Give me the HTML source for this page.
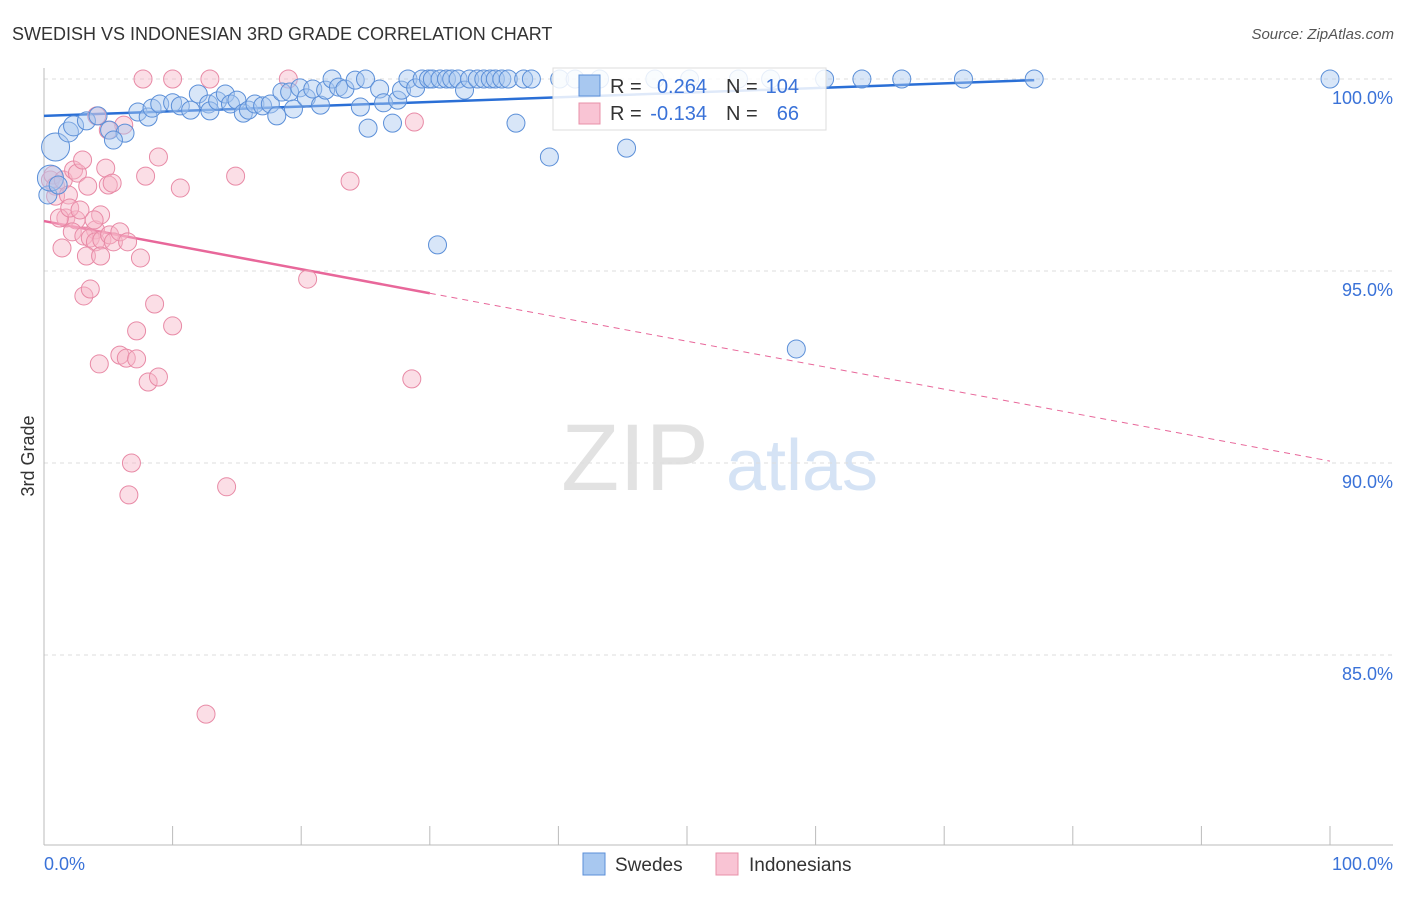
<!DOCTYPE html>
<html><head><meta charset="utf-8"><style>
body{margin:0;background:#fff;font-family:"Liberation Sans",sans-serif;}
svg text{font-family:"Liberation Sans",sans-serif;}
</style></head><body>
<svg id="chart" width="1406" height="892" xmlns="http://www.w3.org/2000/svg">
<text x="12" y="40" font-size="18" fill="#333">SWEDISH VS INDONESIAN 3RD GRADE CORRELATION CHART</text>
<text x="1394" y="39" font-size="15" fill="#555" font-style="italic" text-anchor="end">Source: ZipAtlas.com</text>
<g>
<text x="635" y="490" font-size="95" fill="#e2e2e2" font-family="Liberation Serif" text-anchor="middle">ZIP</text>
<text x="802" y="490" font-size="72" fill="#d5e3f5" text-anchor="middle">atlas</text>
</g>
<g id="grid"></g>
<g id="axes"></g>
<g id="lines"></g>
<g id="pts"></g>
<text transform="translate(34,456) rotate(-90)" font-size="18" fill="#333" text-anchor="middle">3rd Grade</text>
<g>
<rect x="553" y="68" width="273" height="62" fill="#fff" fill-opacity="0.85" stroke="#ddd"/>
<rect x="579" y="75" width="21" height="21" fill="#a8c8f0" stroke="#5b8fd8"/>
<rect x="579" y="103" width="21" height="21" fill="#f9c4d4" stroke="#e890a8"/>
<text x="610" y="93" font-size="20" fill="#333">R =</text>
<text x="707" y="93" font-size="20" fill="#3a72d8" text-anchor="end">0.264</text>
<text x="726" y="93" font-size="20" fill="#333">N =</text>
<text x="799" y="93" font-size="20" fill="#3a72d8" text-anchor="end">104</text>
<text x="610" y="120" font-size="20" fill="#333">R =</text>
<text x="707" y="120" font-size="20" fill="#3a72d8" text-anchor="end">-0.134</text>
<text x="726" y="120" font-size="20" fill="#333">N =</text>
<text x="799" y="120" font-size="20" fill="#3a72d8" text-anchor="end">66</text>
</g>
<g>
<rect x="583" y="853" width="22" height="22" fill="#a8c8f0" stroke="#5b8fd8"/>
<text x="615" y="871" font-size="19" fill="#333">Swedes</text>
<rect x="716" y="853" width="22" height="22" fill="#f9c4d4" stroke="#e890a8"/>
<text x="749" y="871" font-size="19" fill="#333">Indonesians</text>
</g>
</svg>
<script>
const yTicks=[100,95,90,85];
const yTickLabels=["100.0%","95.0%","90.0%","85.0%"];
const xTicks=[0,10,20,30,40,50,60,70,80,90,100];
const sweX=[0.9,1.9,2.3,3.3,4.2,5.1,6.3,5.4,7.3,8.1,8.4,9.0,10.0,10.6,11.4,12.0,12.8,12.9,13.5,14.1,14.5,15.0,15.5,15.9,16.4,17.0,17.6,18.1,18.5,19.1,19.4,19.9,20.4,20.9,21.5,21.9,22.4,22.9,23.4,24.2,24.6,25.0,25.2,26.1,26.4,27.1,27.5,27.8,28.3,28.9,29.4,29.9,30.2,30.6,30.8,31.3,31.7,32.2,32.7,33.1,33.7,34.2,34.7,35.1,35.6,36.1,36.7,37.3,37.9,39.3,40.1,41.3,43.2,45.3,47.5,50.2,54.0,56.5,58.5,60.7,63.6,66.7,71.5,77.0,100,0.3,0.5,1.1];
const sweY=[98.23,98.62,98.78,98.91,99.04,98.67,98.59,98.41,99.14,99.01,99.24,99.35,99.38,99.30,99.19,99.61,99.35,99.17,99.43,99.61,99.35,99.45,99.11,99.19,99.35,99.30,99.35,99.04,99.66,99.66,99.22,99.77,99.51,99.74,99.32,99.71,100,99.79,99.74,99.97,99.27,100,98.72,99.74,99.38,98.85,99.45,99.71,100,99.77,100,100,100,95.68,100,100,100,100,99.71,100,100,100,100,100,100,100,98.85,100,100,97.97,100,100,100,98.20,100,100,100,100,92.97,100,100,100,100,100,100,96.98,97.42,97.24];
const sweR=[14,10,10,9,9,9,9,9,9,9,9,9,9,9,9,9,9,9,9,9,9,9,9,9,9,9,9,9,9,9,9,9,9,9,9,9,9,9,9,9,9,9,9,9,9,9,9,9,9,9,9,9,9,9,9,9,9,9,9,9,9,9,9,9,9,9,9,9,9,9,9,9,9,9,9,9,9,9,9,9,9,9,9,9,9,9,13,9];
const indX=[7.7,10.0,12.9,19.0,0.5,0.7,0.9,0.9,1.5,1.9,2.3,2.6,3.0,3.4,4.0,4.4,4.8,5.0,5.3,1.7,2.5,2.2,3.1,3.6,4.0,4.5,5.1,5.4,5.9,6.5,1.4,3.3,4.4,7.5,7.9,8.9,10.6,14.9,23.8,28.8,6.2,4.1,3.1,3.6,8.6,10.0,7.2,4.3,5.9,6.4,7.2,8.1,8.9,28.6,20.5,6.8,6.6,14.2,12.6,1.2,2.0,2.8,3.9,5.0];
const indY=[100,100,100,100,97.37,97.50,97.21,96.95,97.37,96.98,97.63,97.55,97.89,97.21,96.07,96.46,97.68,97.24,97.29,96.38,96.33,96.02,95.91,95.86,95.76,95.81,95.94,95.76,96.02,95.76,95.60,95.39,95.39,95.34,97.47,97.97,97.16,97.47,97.34,98.88,98.80,99.04,94.35,94.53,94.14,93.57,93.44,92.58,92.81,92.73,92.71,92.11,92.24,92.19,94.79,90.0,89.17,89.38,83.46,96.38,96.64,96.59,96.33,98.67];
const sweTrend=[[0,99.04],[77,99.97]];
const indTrend=[[0,96.30],[30,94.42]];
const indTrendExt=[[30,94.42],[100,90.05]];
const NS="http://www.w3.org/2000/svg";
const X=v=>44+v*12.86, Y=v=>79+(100-v)*38.4;
function mk(tag,attrs,parent){const e=document.createElementNS(NS,tag);for(const k in attrs)e.setAttribute(k,attrs[k]);parent.appendChild(e);return e;}
const grid=document.getElementById('grid'),axes=document.getElementById('axes'),lines=document.getElementById('lines'),pts=document.getElementById('pts');
yTicks.forEach((t,i)=>{
 const g=mk('line',{x1:44,x2:1393,y1:Y(t),y2:Y(t),stroke:'#ddd','stroke-dasharray':'4,4'},grid);
 
 
 const l=mk('text',{x:1393,y:Y(t)+25,'font-size':18,fill:'#3a72d8','text-anchor':'end'},axes);
 l.textContent=yTickLabels[i];
 
 
});
const ax=mk('line',{x1:44,x2:44,y1:68,y2:845,stroke:'#bbb'},axes);


const bx=mk('line',{x1:44,x2:1393,y1:845,y2:845,stroke:'#bbb'},axes);


xTicks.forEach(t=>{const k=mk('line',{x1:X(t),x2:X(t),y1:826,y2:845,stroke:'#bbb'},axes);
 
 });
const x0=mk('text',{x:44,y:870,'font-size':18,fill:'#3a72d8'},axes);x0.textContent='0.0%';


const x1=mk('text',{x:1393,y:870,'font-size':18,fill:'#3a72d8','text-anchor':'end'},axes);x1.textContent='100.0%';


function pt(xs,ys,rs,fill,stroke,name){xs.forEach((v,i)=>{
 const c=mk('circle',{cx:X(v),cy:Y(ys[i]),r:rs?rs[i]:9,fill:fill,'fill-opacity':0.45,stroke:stroke,'stroke-width':1},pts);
 
 });}
pt(indX,indY,null,'#f7b6c8','#e88aa6','indonesian-point');
pt(sweX,sweY,sweR,'#a8c8f0','#5b8fd8','swede-point');
const s=mk('line',{x1:X(sweTrend[0][0]),y1:Y(sweTrend[0][1]),x2:X(sweTrend[1][0]),y2:Y(sweTrend[1][1]),stroke:'#2a6fd6','stroke-width':2.5},lines);


const p=mk('line',{x1:X(indTrend[0][0]),y1:Y(indTrend[0][1]),x2:X(indTrend[1][0]),y2:Y(indTrend[1][1]),stroke:'#e8679a','stroke-width':2.5},lines);


const pe=mk('line',{x1:X(indTrendExt[0][0]),y1:Y(indTrendExt[0][1]),x2:X(indTrendExt[1][0]),y2:Y(indTrendExt[1][1]),stroke:'#e8679a','stroke-width':1,'stroke-dasharray':'6,5'},lines);


</script>
</body></html>
